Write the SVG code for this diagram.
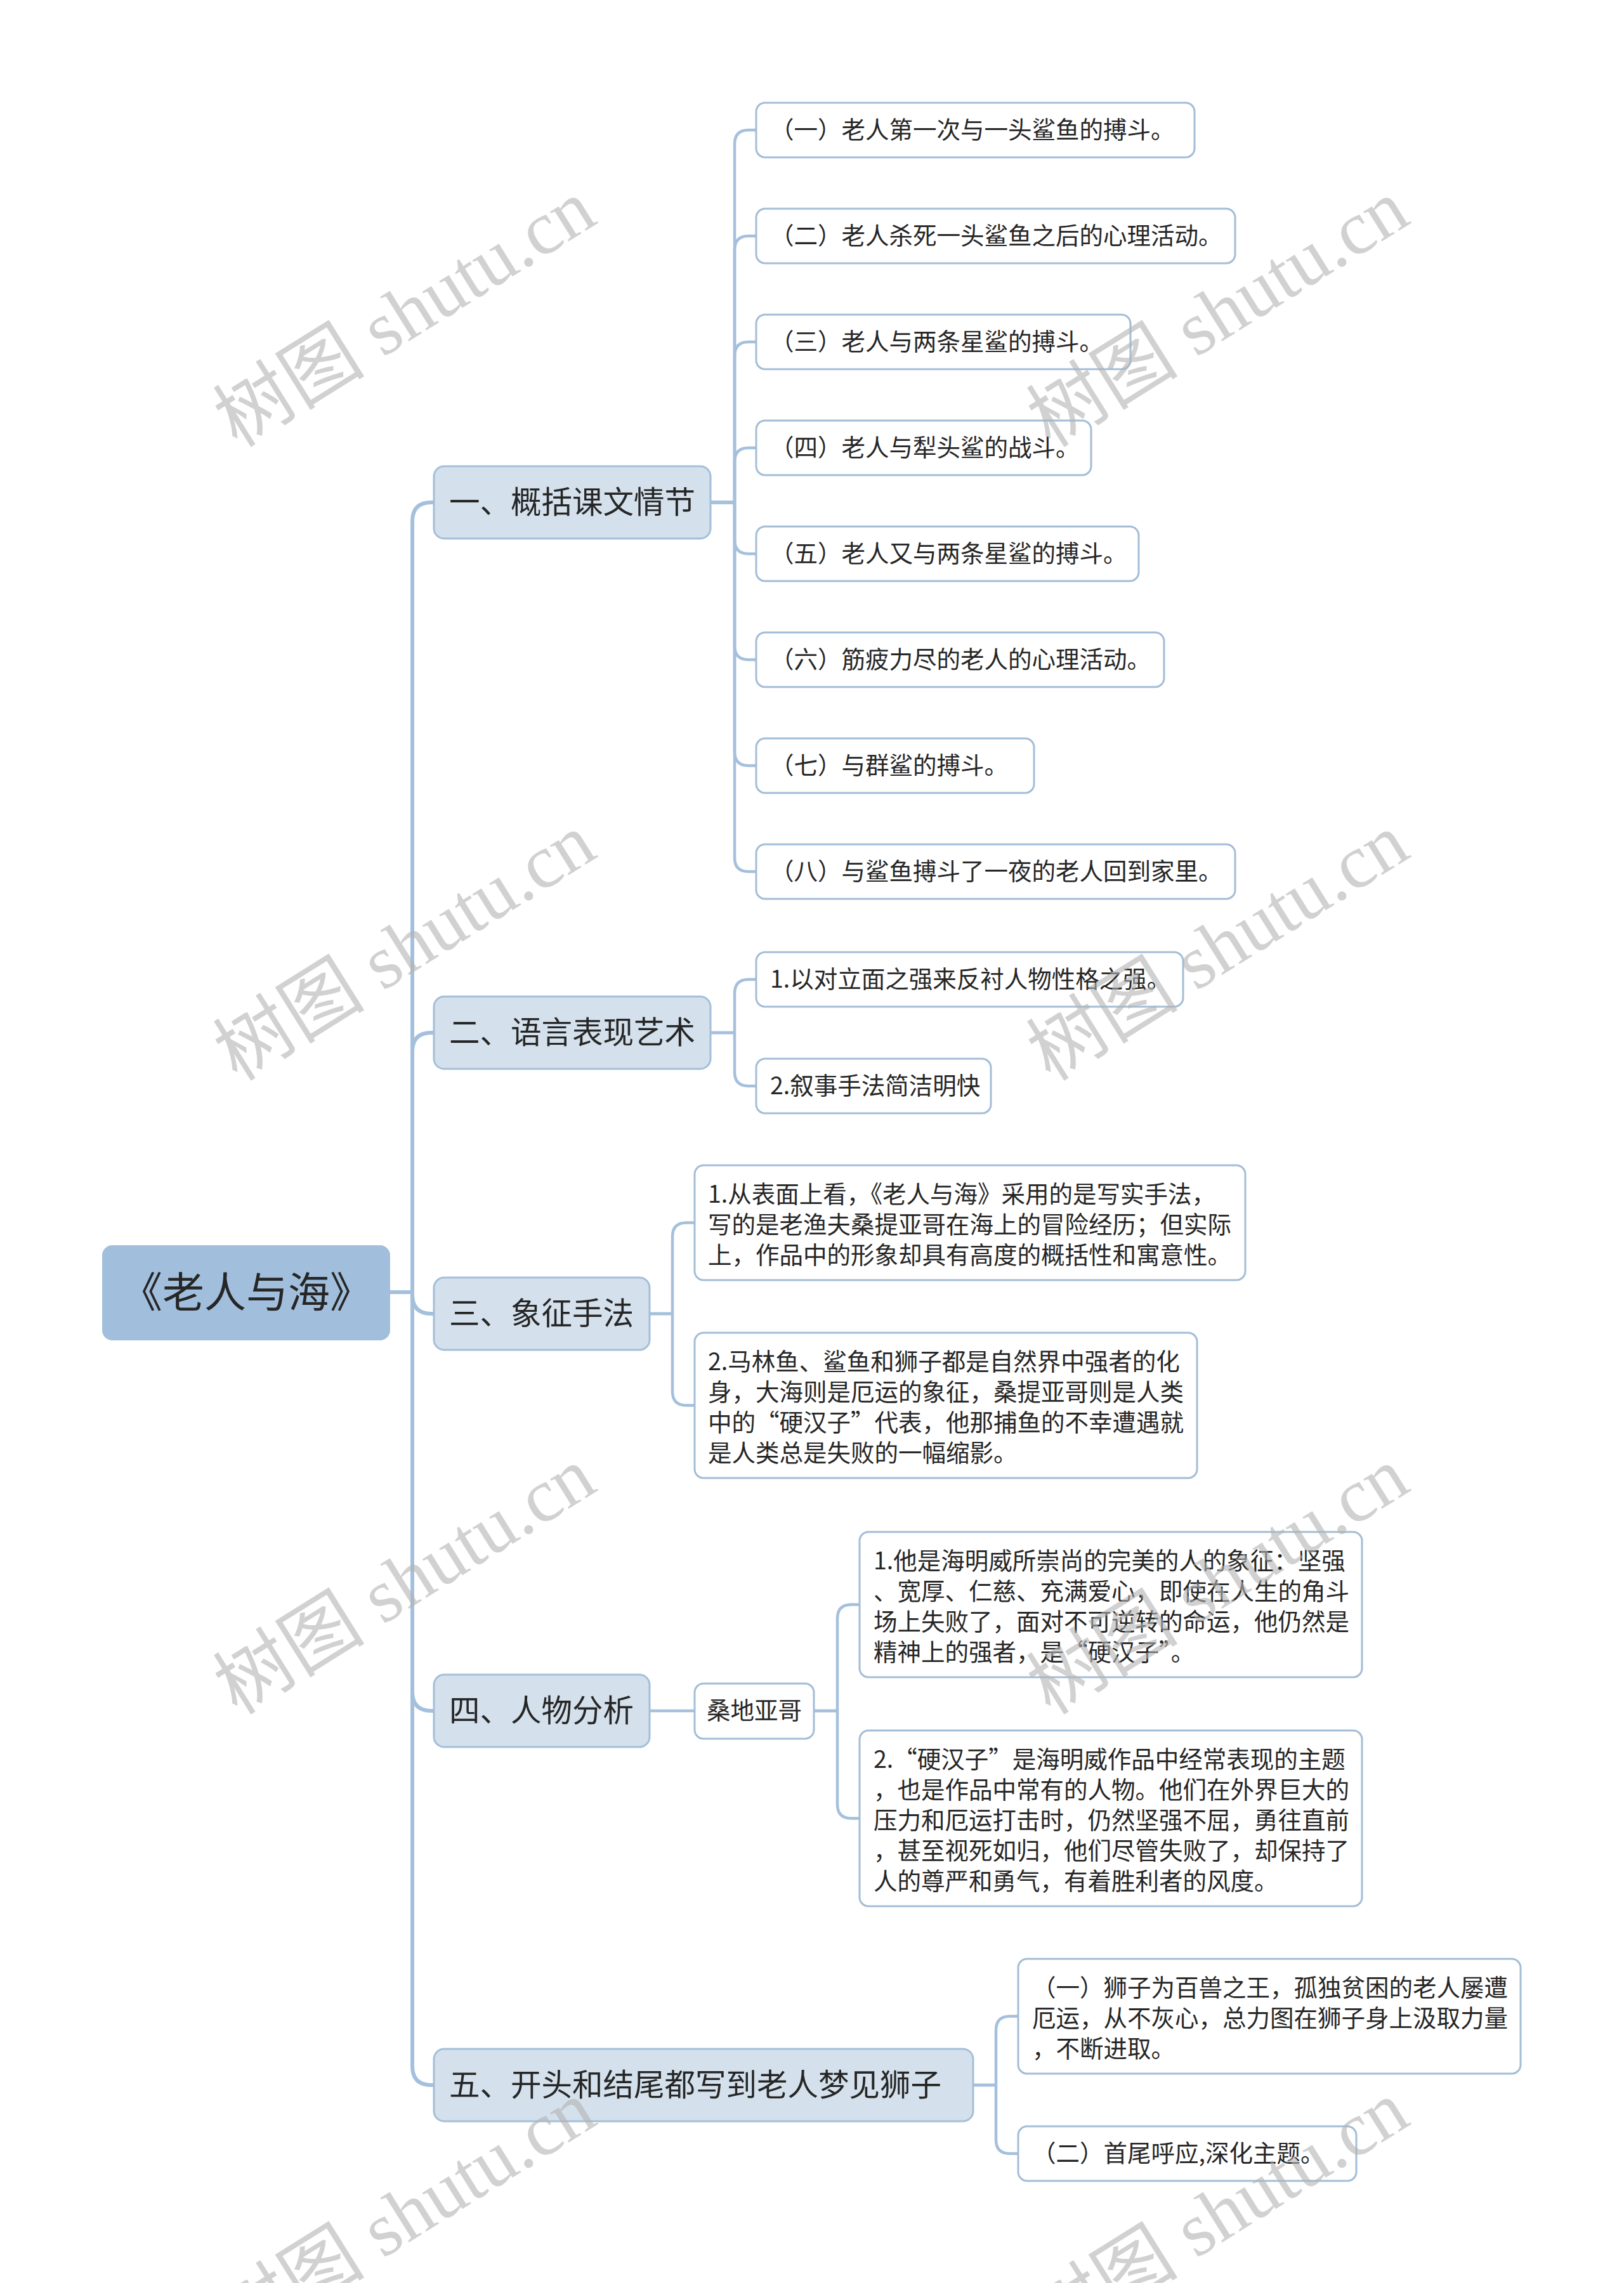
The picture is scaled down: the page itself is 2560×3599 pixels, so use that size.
<svg xmlns="http://www.w3.org/2000/svg" width="2560" height="3599" viewBox="0 0 2560 3599">
<style>
.t{font-family:"Noto Sans CJK SC","Noto Sans",sans-serif;fill:#262626}
.l2{font-size:37.5px}
.l1{font-size:48.5px}
.root{font-size:66px}
.b2{fill:#ffffff;stroke:#a3bdd7;stroke-width:3}
.b1{fill:#d4e1ec;stroke:#a3bfd9;stroke-width:3}
.c{fill:none;stroke:#a4c0dc;stroke-linecap:round;stroke-linejoin:round}
.trunk{stroke-width:6}
.sub{stroke-width:4.5}
.wm{font-family:"Liberation Serif","Noto Sans CJK SC",serif;font-size:120px;fill:#b4b4b4;opacity:0.6}
</style>
<rect width="2560" height="3599" fill="#ffffff"/>
<g id="connectors">
<path class="c trunk" d="M615,2037 H650 V822 Q650,792 680,792 H684"/>
<path class="c trunk" d="M615,2037 H650 V1658 Q650,1628 680,1628 H684"/>
<path class="c trunk" d="M615,2037 H650 V2041 Q650,2071 680,2071 H684"/>
<path class="c trunk" d="M615,2037 H650 V2667 Q650,2697 680,2697 H684"/>
<path class="c trunk" d="M615,2037 H650 V3257 Q650,3287 680,3287 H684"/>
<path class="c sub" d="M1120,792 H1158 V227 Q1158,205 1180,205 H1192"/>
<path class="c sub" d="M1120,792 H1158 V394 Q1158,372 1180,372 H1192"/>
<path class="c sub" d="M1120,792 H1158 V561 Q1158,539 1180,539 H1192"/>
<path class="c sub" d="M1120,792 H1158 V728 Q1158,706 1180,706 H1192"/>
<path class="c sub" d="M1120,792 H1158 V851 Q1158,873 1180,873 H1192"/>
<path class="c sub" d="M1120,792 H1158 V1018 Q1158,1040 1180,1040 H1192"/>
<path class="c sub" d="M1120,792 H1158 V1185 Q1158,1207 1180,1207 H1192"/>
<path class="c sub" d="M1120,792 H1158 V1352 Q1158,1374 1180,1374 H1192"/>
<path class="c sub" d="M1120,1628 H1158 V1566 Q1158,1544 1180,1544 H1192"/>
<path class="c sub" d="M1120,1628 H1158 V1690 Q1158,1712 1180,1712 H1192"/>
<path class="c sub" d="M1024,2071 H1060 V1949.5 Q1060,1927.5 1082,1927.5 H1095"/>
<path class="c sub" d="M1024,2071 H1060 V2193.5 Q1060,2215.5 1082,2215.5 H1095"/>
<path class="c sub" d="M1024,2697 H1095"/>
<path class="c sub" d="M1283,2697 H1320 V2551.5 Q1320,2529.5 1342,2529.5 H1355"/>
<path class="c sub" d="M1283,2697 H1320 V2844.5 Q1320,2866.5 1342,2866.5 H1355"/>
<path class="c sub" d="M1534,3287 H1570 V3200.5 Q1570,3178.5 1592,3178.5 H1605"/>
<path class="c sub" d="M1534,3287 H1570 V3373 Q1570,3395 1592,3395 H1605"/>
</g>
<g id="root">
<rect x="161" y="1963" width="454" height="150" rx="16" fill="#a1bfdc"/>
<text class="t root" x="388" y="2061" text-anchor="middle">《老人与海》</text>
</g>
<g id="n1">
<rect class="b1" x="684" y="735" width="436" height="114" rx="16"/>
<text class="t l1" x="708" y="809">一、概括课文情节</text>
</g>
<g id="n1-1"><rect class="b2" x="1192" y="162" width="691" height="86" rx="14"/><text class="t l2" x="1214" y="218">（一）老人第一次与一头鲨鱼的搏斗。</text></g>
<g id="n1-2"><rect class="b2" x="1192" y="329" width="755" height="86" rx="14"/><text class="t l2" x="1214" y="385">（二）老人杀死一头鲨鱼之后的心理活动。</text></g>
<g id="n1-3"><rect class="b2" x="1192" y="496" width="590" height="86" rx="14"/><text class="t l2" x="1214" y="552">（三）老人与两条星鲨的搏斗。</text></g>
<g id="n1-4"><rect class="b2" x="1192" y="663" width="528" height="86" rx="14"/><text class="t l2" x="1214" y="719">（四）老人与犁头鲨的战斗。</text></g>
<g id="n1-5"><rect class="b2" x="1192" y="830" width="603" height="86" rx="14"/><text class="t l2" x="1214" y="886">（五）老人又与两条星鲨的搏斗。</text></g>
<g id="n1-6"><rect class="b2" x="1192" y="997" width="643" height="86" rx="14"/><text class="t l2" x="1214" y="1053">（六）筋疲力尽的老人的心理活动。</text></g>
<g id="n1-7"><rect class="b2" x="1192" y="1164" width="438" height="86" rx="14"/><text class="t l2" x="1214" y="1220">（七）与群鲨的搏斗。</text></g>
<g id="n1-8"><rect class="b2" x="1192" y="1331" width="755" height="86" rx="14"/><text class="t l2" x="1214" y="1387">（八）与鲨鱼搏斗了一夜的老人回到家里。</text></g>
<g id="n2">
<rect class="b1" x="684" y="1571" width="436" height="114" rx="16"/>
<text class="t l1" x="708" y="1645">二、语言表现艺术</text>
</g>
<g id="n2-1"><rect class="b2" x="1192" y="1501" width="673" height="86" rx="14"/><text class="t l2" x="1214" y="1557">1.以对立面之强来反衬人物性格之强。</text></g>
<g id="n2-2"><rect class="b2" x="1192" y="1669" width="370" height="86" rx="14"/><text class="t l2" x="1214" y="1725">2.叙事手法简洁明快</text></g>
<g id="n3">
<rect class="b1" x="684" y="2014" width="340" height="114" rx="16"/>
<text class="t l1" x="708" y="2088">三、象征手法</text>
</g>
<g id="n3-1"><rect class="b2" x="1095" y="1837" width="868" height="181" rx="14"/>
<text class="t l2" x="1116" y="1896">1.从表面上看，《老人与海》采用的是写实手法，</text>
<text class="t l2" x="1116" y="1944">写的是老渔夫桑提亚哥在海上的冒险经历；但实际</text>
<text class="t l2" x="1116" y="1992">上，作品中的形象却具有高度的概括性和寓意性。</text></g>
<g id="n3-2"><rect class="b2" x="1095" y="2101" width="792" height="229" rx="14"/>
<text class="t l2" x="1116" y="2160">2.马林鱼、鲨鱼和狮子都是自然界中强者的化</text>
<text class="t l2" x="1116" y="2208">身，大海则是厄运的象征，桑提亚哥则是人类</text>
<text class="t l2" x="1116" y="2256">中的“硬汉子”代表，他那捕鱼的不幸遭遇就</text>
<text class="t l2" x="1116" y="2304">是人类总是失败的一幅缩影。</text></g>
<g id="n4">
<rect class="b1" x="684" y="2640" width="340" height="114" rx="16"/>
<text class="t l1" x="708" y="2714">四、人物分析</text>
</g>
<g id="n4-1"><rect class="b2" x="1095" y="2654" width="188" height="87" rx="14"/><text class="t l2" x="1114" y="2710">桑地亚哥</text></g>
<g id="n4-1-1"><rect class="b2" x="1355" y="2415" width="792" height="229" rx="14"/>
<text class="t l2" x="1377" y="2474">1.他是海明威所崇尚的完美的人的象征：坚强</text>
<text class="t l2" x="1377" y="2522">、宽厚、仁慈、充满爱心，即使在人生的角斗</text>
<text class="t l2" x="1377" y="2570">场上失败了，面对不可逆转的命运，他仍然是</text>
<text class="t l2" x="1377" y="2618">精神上的强者，是“硬汉子”。</text></g>
<g id="n4-1-2"><rect class="b2" x="1355" y="2728" width="792" height="277" rx="14"/>
<text class="t l2" x="1377" y="2787">2.“硬汉子”是海明威作品中经常表现的主题</text>
<text class="t l2" x="1377" y="2835">，也是作品中常有的人物。他们在外界巨大的</text>
<text class="t l2" x="1377" y="2883">压力和厄运打击时，仍然坚强不屈，勇往直前</text>
<text class="t l2" x="1377" y="2931">，甚至视死如归，他们尽管失败了，却保持了</text>
<text class="t l2" x="1377" y="2979">人的尊严和勇气，有着胜利者的风度。</text></g>
<g id="n5">
<rect class="b1" x="684" y="3230" width="850" height="114" rx="16"/>
<text class="t l1" x="708" y="3304">五、开头和结尾都写到老人梦见狮子</text>
</g>
<g id="n5-1"><rect class="b2" x="1605" y="3088" width="792" height="181" rx="14"/>
<text class="t l2" x="1627" y="3147">（一）狮子为百兽之王，孤独贫困的老人屡遭</text>
<text class="t l2" x="1627" y="3195">厄运，从不灰心，总力图在狮子身上汲取力量</text>
<text class="t l2" x="1627" y="3243">，不断进取。</text></g>
<g id="n5-2"><rect class="b2" x="1605" y="3352" width="533" height="86" rx="14"/><text class="t l2" x="1627" y="3408">（二）首尾呼应,深化主题。</text></g>
<g id="watermarks">
<text class="wm" transform="translate(374,707) rotate(-32)">树图 shutu.cn</text>
<text class="wm" transform="translate(1656,707) rotate(-32)">树图 shutu.cn</text>
<text class="wm" transform="translate(374,1706) rotate(-32)">树图 shutu.cn</text>
<text class="wm" transform="translate(1656,1706) rotate(-32)">树图 shutu.cn</text>
<text class="wm" transform="translate(374,2705) rotate(-32)">树图 shutu.cn</text>
<text class="wm" transform="translate(1656,2705) rotate(-32)">树图 shutu.cn</text>
<text class="wm" transform="translate(374,3704) rotate(-32)">树图 shutu.cn</text>
<text class="wm" transform="translate(1656,3704) rotate(-32)">树图 shutu.cn</text>
</g>
</svg>
